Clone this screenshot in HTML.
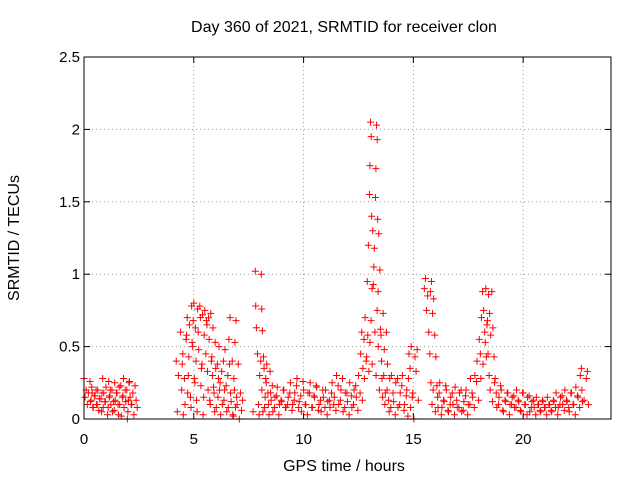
<!DOCTYPE html>
<html><head><meta charset="utf-8"><style>
html,body{margin:0;padding:0;background:#fff;}
svg{display:block;font-family:"Liberation Sans",sans-serif;}
</style></head><body>
<svg id="chart" width="640" height="480" viewBox="0 0 640 480">
<rect width="640" height="480" fill="#fff"/>
<text x="344" y="32" font-size="16" text-anchor="middle">Day 360 of 2021, SRMTID for receiver clon</text>
<text x="344" y="471" font-size="16" text-anchor="middle">GPS time / hours</text>
<text x="19" y="238" font-size="16" text-anchor="middle" transform="rotate(-90 19 238)">SRMTID / TECUs</text>
<g id="grid"></g><g id="ticks"></g><g id="marks"></g>
<rect x="84" y="57" width="527" height="362" fill="none" stroke="#000" stroke-width="1"/>
</svg>
<script>
const xTicks=[0,5,10,15,20];
const yTicks=[0,0.5,1,1.5,2,2.5];
const yTickLabels=["0","0.5","1","1.5","2","2.5"];
const hours=[0.0,0.05,0.1,0.15,0.2,0.3,0.35,0.4,0.5,0.55,0.6,0.7,0.8,0.85,0.9,0.95,1.0,1.1,1.15,1.2,1.3,1.35,1.4,1.5,1.55,1.6,1.7,1.75,1.8,1.9,1.95,2.0,2.05,2.1,2.15,
4.2,4.25,4.3,4.4,4.45,4.5,4.6,4.65,4.7,4.75,4.8,4.85,4.9,4.95,5.0,5.05,5.1,5.15,5.2,5.3,5.35,5.4,5.45,5.5,5.55,5.6,5.65,5.7,5.75,5.8,5.85,5.9,5.95,6.0,6.1,6.15,6.2,6.3,6.35,6.4,6.5,6.55,6.6,6.65,6.7,6.75,6.8,6.85,6.9,6.95,
7.7,7.8,7.82,7.85,7.9,7.95,8.0,8.05,8.1,8.15,8.2,8.25,8.3,8.4,8.5,8.6,8.7,8.8,8.9,9.0,9.1,9.2,9.3,9.4,9.5,9.6,9.7,9.8,9.9,10.0,10.1,10.2,10.3,10.4,10.5,10.6,10.7,10.8,10.9,11.0,11.1,11.2,11.3,11.4,11.5,11.6,11.7,11.8,11.9,12.0,12.1,12.2,12.3,12.4,12.5,
12.6,12.65,12.7,12.75,12.8,12.85,12.9,12.95,13.0,13.02,13.05,13.08,13.1,13.12,13.15,13.2,13.25,13.3,13.35,13.4,13.45,13.5,13.55,13.6,13.65,13.7,
13.8,13.9,14.0,14.1,14.2,14.3,14.4,14.5,14.6,14.7,14.75,14.8,14.85,14.9,14.95,
15.5,15.55,15.6,15.65,15.7,15.75,15.8,15.85,15.9,16.0,16.1,16.2,16.3,16.4,16.5,16.6,16.7,16.8,16.9,17.0,17.1,17.2,17.3,17.4,17.5,17.6,17.7,17.8,17.9,18.0,18.05,18.1,18.15,18.2,18.25,18.3,18.35,18.4,18.45,18.5,18.6,18.7,18.8,18.9,19.0,19.1,19.2,19.3,19.4,19.5,19.6,19.7,19.8,19.9,20.0,20.1,20.2,20.3,20.4,20.5,20.6,20.7,20.8,20.9,21.0,21.1,21.2,21.3,21.4,21.5,21.6,21.7,21.8,21.9,22.0,22.1,22.2,22.3,22.4,22.5,22.6,22.65,22.7];
const srmtid=[.28,.15,.2,.1,.18,.12,.22,.08,.16,.2,.1,.14,.05,.28,.18,.12,.22,.08,.15,.2,.05,.12,.25,.18,.1,.22,.02,.15,.28,.12,.2,.05,.25,.15,.1,
.4,.05,.3,.6,.2,.45,.1,.55,.7,.3,.65,.15,.78,.5,.8,.25,.4,.05,.6,.7,.35,.72,.15,.75,.45,.65,.2,.55,.1,.4,.3,.22,.05,.35,.15,.5,.25,.1,.4,.2,.05,.3,.55,.7,.12,.4,.02,.2,.08,.15,
.05,1.02,.78,.63,.45,.1,.3,.4,.2,.05,.35,.15,.25,.1,.18,.05,.15,.22,.1,.12,.2,.08,.15,.25,.1,.18,.28,.12,.05,.2,.1,.18,.25,.08,.15,.22,.1,.05,.15,.2,.12,.08,.25,.15,.3,.1,.2,.05,.18,.12,.25,.08,.2,.15,.3,
.45,.6,.35,.55,.7,.4,.95,1.2,1.55,1.75,2.05,1.95,1.4,.9,1.3,1.05,.6,.3,.75,.5,.2,.62,.4,.15,.3,.1,
.2,.05,.3,.12,.25,.08,.18,.3,.1,.2,.02,.45,.35,.5,.15,
.9,.97,.75,.85,.6,.45,.25,.1,.2,.05,.15,.25,.08,.12,.2,.05,.15,.1,.22,.08,.18,.05,.12,.2,.1,.28,.15,.3,.4,.55,.45,.7,.88,.75,.6,.9,.65,.45,.3,.2,.12,.25,.08,.15,.2,.05,.12,.18,.1,.15,.08,.2,.12,.05,.18,.1,.15,.05,.12,.08,.15,.1,.05,.12,.08,.15,.1,.05,.12,.18,.08,.15,.1,.2,.12,.05,.18,.1,.22,.15,.3,.35,.12];
const NS="http://www.w3.org/2000/svg";
const X0=84,X1=611,Y0=419,Y1=57;
function xs(t){return X0+t/24*(X1-X0);}
function ys(v){return Y0-v/2.5*(Y0-Y1);}
const grid=document.getElementById('grid'),ticks=document.getElementById('ticks'),marks=document.getElementById('marks');
function mk(tag,attrs,parent){const e=document.createElementNS(NS,tag);for(const k in attrs)e.setAttribute(k,attrs[k]);parent.appendChild(e);return e;}
xTicks.forEach(t=>{const x=xs(t);
 if(t>0){const g=mk('line',{x1:x,x2:x,y1:Y0,y2:Y1,stroke:'#999','stroke-dasharray':'1,3'},grid);
 
 }
 mk('line',{x1:x,x2:x,y1:Y0,y2:Y0-6,stroke:'#000'},ticks);
 mk('line',{x1:x,x2:x,y1:Y1,y2:Y1+6,stroke:'#000'},ticks);
 const l=mk('text',{x:x,y:Y0+25,'font-size':15,'text-anchor':'middle'},ticks);l.textContent=String(t);
 
 });
yTicks.forEach((v,i)=>{const y=ys(v);
 if(v>0&&v<2.5){const g=mk('line',{x1:X0,x2:X1,y1:y,y2:y,stroke:'#999','stroke-dasharray':'1,3'},grid);
 
 }
 mk('line',{x1:X0,x2:X0+6,y1:y,y2:y,stroke:'#000'},ticks);
 mk('line',{x1:X1,x2:X1-6,y1:y,y2:y,stroke:'#000'},ticks);
 const l=mk('text',{x:X0-4,y:y+5,'font-size':15,'text-anchor':'end'},ticks);l.textContent=yTickLabels[i];
 
 });
hours.forEach((t,i)=>{const x=xs(t),y=ys(srmtid[i]);
 const p=mk('path',{d:`M${x-3.5},${y}H${x+3.5}M${x},${y-3.5}V${y+3.5}`,stroke:'#f00','stroke-width':1},marks);
 
 
 const q=mk('path',{d:`M${x+2.5},${y+3}h7M${x+6},${y-0.5}v7`,stroke:'#f00','stroke-width':1},marks);
 
 });
</script>
</body></html>
